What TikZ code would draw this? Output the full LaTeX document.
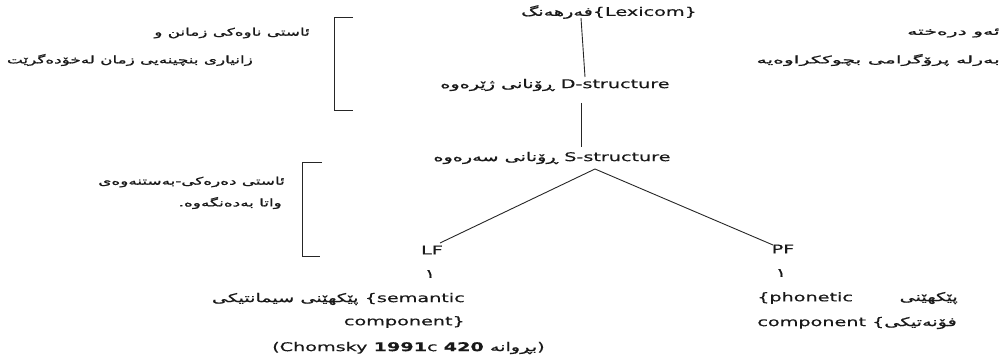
\documentclass[tikz,border=0pt]{standalone}
\usepackage{fontspec}
\setmainfont{DejaVu Sans}[FakeStretch=1.6,FakeBold=0.5]
\newfontfamily\ar[Script=Arabic,FakeStretch=1.6,FakeBold=1.2]{DejaVu Sans}
\newfontfamily\arw[Script=Arabic,FakeStretch=1.95,FakeBold=1.2]{DejaVu Sans}
\TeXXeTstate=1
\begin{document}
\begin{tikzpicture}[x=1pt,y=-1pt,
  txt/.style={inner sep=0pt,font=\fontsize{10.5}{12}\selectfont,text=black!90},
  tree/.style={inner sep=0pt,font=\fontsize{12}{14}\selectfont,text=black!90},
  ln/.style={draw=black!85,line width=0.9pt}]
\useasboundingbox (0,0) rectangle (1007,358);
% tree nodes
\node[tree] (lex) at (609,12) {{\ar\beginR فەرهەنگ\endR}\{Lexicom\}};
\node[tree] (dstr) at (555,85) {{\ar\beginR ڕۆنانی ژێرەوە\endR} D-structure};
\node[tree] (sstr) at (552,158) {{\ar\beginR ڕۆنانی سەرەوە\endR} S-structure};
\node[tree] (lf) at (432,250) {LF};
\node[tree] (pf) at (783,249) {PF};
\node[tree] (one1) at (430,274) {\ar ١};
\node[tree] (one2) at (781,273) {\ar ١};
\node[tree,anchor=east] (sem1) at (465,299) {{\ar\beginR پێکهێنی سیمانتیکی\endR} \{semantic};
\node[tree,anchor=east] (sem2) at (465,322) {component\}};
\node[tree,anchor=west] (chom) at (272,348) {(Chomsky \textbf{1991}c \textbf{420} {\ar\beginR بڕوانە\endR})};
\node[tree,anchor=west] (ph1) at (757,298) {\{phonetic};
\node[tree,anchor=east] (ph1b) at (958,298) {\ar\beginR پێکهێنی\endR};
\node[tree,anchor=east] (ph2) at (957,323) {component \{{\ar\beginR فۆنەتیکی\endR}};
% annotations
\node[txt,anchor=east] (l1) at (310,33) {\ar\beginR ئاستی ناوەکی زمانن و\endR};
\node[txt,anchor=east] (l2) at (253,60) {\ar\beginR زانیاری بنچینەیی زمان لەخۆدەگرێت\endR};
\node[txt,anchor=east] (r1) at (1000,33) {\arw\beginR ئەو درەختە\endR};
\node[txt,anchor=east] (r2) at (1000,60) {\arw\beginR بەرلە پرۆگرامی بچوککراوەیە\endR};
\node[txt,anchor=east] (l3) at (285,182) {\ar\beginR ئاستی دەرەکی-بەستنەوەی\endR};
\node[txt,anchor=east] (l4) at (282,203) {\ar\beginR واتا بەدەنگەوە.\endR};
% connector ends
\coordinate (a1) at (581,18);
\coordinate (a2) at (585,77);
\coordinate (b1) at (581,103);
\coordinate (b2) at (581,147);
\coordinate (c0) at (595,169);
\coordinate (c1) at (440,243);
\coordinate (c2) at (773,245);
\draw[ln] (a1) -- (a2);
\draw[ln] (b1) -- (b2);
\draw[ln] (c1) -- (c0) -- (c2);
% brackets
\coordinate (k1) at (353,17);
\coordinate (k2) at (334,17);
\coordinate (k3) at (334,110);
\coordinate (k4) at (353,110);
\draw[ln] (k1) -- (k2) -- (k3) -- (k4);
\coordinate (m1) at (322,162);
\coordinate (m2) at (302,162);
\coordinate (m3) at (302,256);
\coordinate (m4) at (320,256);
\draw[ln] (m1) -- (m2) -- (m3) -- (m4);
\end{tikzpicture}
\end{document}
